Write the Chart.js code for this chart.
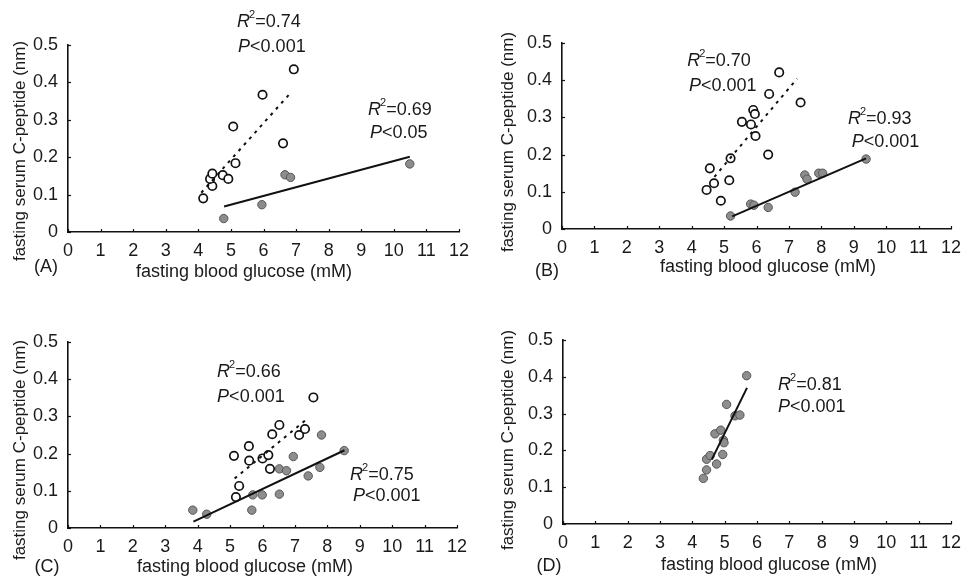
<!DOCTYPE html>
<html lang="en">
<head>
<meta charset="UTF-8">
<title>Fasting blood glucose vs fasting serum C-peptide</title>
<script src="https://cdn.jsdelivr.net/npm/chart.js@4"></script>
<style>
    body {
        margin: 0;
        background: #ffffff;
    }
    #wrap {
        position: relative;
        width: 969px;
        height: 576px;
        overflow: hidden;
    }
    canvas {
        position: absolute;
    }
</style>
</head>
<body>
<div id="wrap">
    <canvas id="chartA" width="484" height="288" style="left:0;top:0"></canvas>
    <canvas id="chartB" width="485" height="288" style="left:484px;top:0"></canvas>
    <canvas id="chartC" width="484" height="288" style="left:0;top:288px"></canvas>
    <canvas id="chartD" width="485" height="288" style="left:484px;top:288px"></canvas>
</div>
<script>
// axis ticks
const xTicks = [0, 1, 2, 3, 4, 5, 6, 7, 8, 9, 10, 11, 12];
const yTicks = [0, 0.1, 0.2, 0.3, 0.4, 0.5];
const yTickLabels = ['0', '0.1', '0.2', '0.3', '0.4', '0.5'];
const xTitle = 'fasting blood glucose (mM)';
const yTitle = 'fasting serum C-peptide (nm)';

// panel A
const aOpenX = [4.15, 4.43, 4.36, 4.43, 4.75, 4.92, 5.14, 5.07, 5.97, 6.60, 6.93];
const aOpenY = [0.090, 0.123, 0.142, 0.156, 0.152, 0.142, 0.184, 0.282, 0.367, 0.237, 0.435];
const aFillX = [4.78, 5.95, 6.66, 6.83, 10.49];
const aFillY = [0.036, 0.073, 0.153, 0.146, 0.182];
const aDashX = [4.09, 6.79];
const aDashY = [0.105, 0.368];
const aSolidX = [4.79, 10.49];
const aSolidY = [0.068, 0.201];
const aR2 = ['0.74', '0.69'];
const aP = ['<0.001', '<0.05'];

// panel B
const bOpenX = [4.46, 4.56, 4.69, 4.90, 5.16, 5.20, 5.55, 5.83, 5.90, 5.95, 5.97, 6.36, 6.39, 6.70, 7.36];
const bOpenY = [0.105, 0.163, 0.123, 0.076, 0.131, 0.190, 0.288, 0.281, 0.320, 0.309, 0.250, 0.200, 0.363, 0.421, 0.340];
const bFillX = [5.20, 5.82, 5.92, 6.36, 7.19, 7.49, 7.56, 7.92, 8.04, 9.38];
const bFillY = [0.035, 0.067, 0.064, 0.058, 0.099, 0.145, 0.134, 0.150, 0.150, 0.188];
const bDashX = [4.70, 7.25];
const bDashY = [0.140, 0.404];
const bSolidX = [5.25, 9.38];
const bSolidY = [0.034, 0.190];
const bR2 = ['0.70', '0.93'];
const bP = ['<0.001', '<0.001'];

// panel C
const cOpenX = [5.18, 5.28, 5.12, 5.58, 5.59, 6.00, 6.18, 6.23, 6.30, 6.52, 7.13, 7.31, 7.57];
const cOpenY = [0.083, 0.113, 0.194, 0.220, 0.181, 0.187, 0.196, 0.159, 0.252, 0.277, 0.250, 0.266, 0.351];
const cFillX = [3.85, 4.28, 5.67, 5.70, 5.99, 6.52, 6.52, 6.74, 6.95, 7.41, 7.77, 7.82, 8.52];
const cFillY = [0.048, 0.037, 0.048, 0.089, 0.089, 0.091, 0.159, 0.154, 0.192, 0.140, 0.163, 0.250, 0.208];
const cDashX = [5.14, 7.40];
const cDashY = [0.133, 0.295];
const cSolidX = [3.87, 8.53];
const cSolidY = [0.017, 0.209];
const cR2 = ['0.66', '0.75'];
const cP = ['<0.001', '<0.001'];

// panel D
const dFillX = [4.34, 4.44, 4.44, 4.55, 4.70, 4.75, 4.88, 4.94, 4.96, 4.98, 5.06, 5.32, 5.47, 5.68];
const dFillY = [0.124, 0.147, 0.176, 0.186, 0.245, 0.163, 0.255, 0.189, 0.228, 0.221, 0.325, 0.294, 0.296, 0.403];
const dSolidX = [4.60, 5.69];
const dSolidY = [0.175, 0.370];
const dR2 = ['0.81'];
const dP = ['<0.001'];

const FONT = '"Liberation Sans", Arial, Helvetica, sans-serif';
const INK = '#1a1a1a';

function pts(xs, ys) {
    return xs.map((x, i) => ({ x: x, y: ys[i] }));
}

function openSet(xs, ys) {
    return { data: pts(xs, ys), pointRadius: 4.2, pointBackgroundColor: '#ffffff',
             pointBorderColor: '#111', pointBorderWidth: 1.7, showLine: false };
}
function fillSet(xs, ys) {
    return { data: pts(xs, ys), pointRadius: 4.2, pointBackgroundColor: '#8d8d8d',
             pointBorderColor: '#555', pointBorderWidth: 1, showLine: false };
}
function lineSet(xs, ys, dashed) {
    return { data: pts(xs, ys), showLine: true, pointRadius: 0, borderColor: '#111',
             borderWidth: 2, borderDash: dashed ? [3, 5] : [] };
}

// axes titles, panel tag, inward ticks, R2/P notes
const decor = {
    id: 'decor',
    afterDraw(chart, args, o) {
        const { ctx, chartArea: a } = chart;
        const sx = chart.scales.x, sy = chart.scales.y;
        ctx.save();
        ctx.strokeStyle = '#111';
        ctx.lineWidth = 1.2;
        sx.ticks.forEach(t => {
            const px = Math.round(sx.getPixelForValue(t.value)) + 0.5;
            ctx.beginPath(); ctx.moveTo(px, a.bottom); ctx.lineTo(px, a.bottom - 3); ctx.stroke();
        });
        sy.ticks.forEach(t => {
            const py = Math.round(sy.getPixelForValue(t.value)) + 0.5;
            ctx.beginPath(); ctx.moveTo(a.left, py); ctx.lineTo(a.left + 3, py); ctx.stroke();
        });

        ctx.fillStyle = INK;
        ctx.textAlign = 'center';
        ctx.textBaseline = 'middle';
        ctx.font = '18px ' + FONT;
        ctx.fillText(xTitle, o.xTitle[0], o.xTitle[1]);
        ctx.fillText(o.tag, o.tagPos[0], o.tagPos[1]);
        ctx.font = '17px ' + FONT;
        ctx.save();
        ctx.translate(o.yTitle[0], o.yTitle[1]);
        ctx.rotate(-Math.PI / 2);
        ctx.fillText(yTitle, 0, 0);
        ctx.restore();

        ctx.textAlign = 'left';
        o.r2.forEach((val, i) => {
            const pos = o.notes[i];
            let x = sx.getPixelForValue(pos[0]);
            let y = sy.getPixelForValue(pos[1]);
            ctx.font = 'italic 18px ' + FONT;
            ctx.fillText('R', x, y);
            x += ctx.measureText('R').width;
            ctx.font = '11px ' + FONT;
            ctx.fillText('2', x - 1, y - 7);
            x += ctx.measureText('2').width - 1;
            ctx.font = '18px ' + FONT;
            ctx.fillText('=' + val, x, y);

            x = sx.getPixelForValue(pos[2]);
            y = sy.getPixelForValue(pos[3]);
            ctx.font = 'italic 18px ' + FONT;
            ctx.fillText('P', x, y);
            x += ctx.measureText('P').width;
            ctx.font = '18px ' + FONT;
            ctx.fillText(o.p[i], x, y);
        });
        ctx.restore();
    }
};

function makePanel(id, datasets, box, deco) {
    const H = 288;
    new Chart(document.getElementById(id), {
        type: 'scatter',
        data: { datasets: datasets },
        options: {
            responsive: false,
            animation: false,
            events: [],
            layout: { padding: { left: 0, top: box.t, right: box.w - box.r, bottom: 0 } },
            plugins: { legend: { display: false }, tooltip: { enabled: false }, decor: deco },
            scales: {
                x: {
                    type: 'linear', min: 0, max: 12,
                    afterBuildTicks: s => { s.ticks = xTicks.map(v => ({ value: v })); },
                    afterFit: s => { s.height = H - box.b; s.paddingLeft = 0; s.paddingRight = 0; },
                    grid: { display: false },
                    border: { display: true, color: '#111', width: 1.6 },
                    ticks: { color: INK, padding: 0, maxRotation: 0, autoSkip: false,
                             font: { family: FONT, size: 18 } }
                },
                y: {
                    type: 'linear', min: 0, max: 0.5,
                    afterBuildTicks: s => { s.ticks = yTicks.map(v => ({ value: v })); },
                    afterFit: s => { s.width = box.l; s.paddingTop = 0; s.paddingBottom = 0; },
                    grid: { display: false },
                    border: { display: true, color: '#111', width: 1.6 },
                    ticks: { color: INK, padding: 2, autoSkip: false,
                             callback: (v, i) => yTickLabels[i],
                             font: { family: FONT, size: 18 } }
                }
            }
        },
        plugins: [decor]
    });
}

makePanel('chartA', [
    lineSet(aDashX, aDashY, true), lineSet(aSolidX, aSolidY, false),
    openSet(aOpenX, aOpenY), fillSet(aFillX, aFillY)
], { w: 484, l: 68, r: 459, t: 45, b: 232 }, {
    xTitle: [244, 272], yTitle: [20, 151], tag: '(A)', tagPos: [46, 267],
    r2: aR2, p: aP, notes: [[5.19, 0.561, 5.22, 0.495], [9.21, 0.326, 9.27, 0.265]]
});

makePanel('chartB', [
    lineSet(bDashX, bDashY, true), lineSet(bSolidX, bSolidY, false),
    openSet(bOpenX, bOpenY), fillSet(bFillX, bFillY)
], { w: 485, l: 78, r: 467, t: 43, b: 229 }, {
    xTitle: [284, 267], yTitle: [24, 142], tag: '(B)', tagPos: [63, 271],
    r2: bR2, p: bP, notes: [[3.86, 0.452, 3.92, 0.384], [8.82, 0.296, 8.94, 0.234]]
});

makePanel('chartC', [
    lineSet(cDashX, cDashY, true), lineSet(cSolidX, cSolidY, false),
    openSet(cOpenX, cOpenY), fillSet(cFillX, cFillY)
], { w: 484, l: 68, r: 457, t: 54, b: 240 }, {
    xTitle: [245, 279], yTitle: [20, 162], tag: '(C)', tagPos: [47, 279],
    r2: cR2, p: cP, notes: [[4.60, 0.419, 4.60, 0.352], [8.70, 0.142, 8.79, 0.086]]
});

makePanel('chartD', [
    lineSet(dSolidX, dSolidY, false), fillSet(dFillX, dFillY)
], { w: 485, l: 79, r: 467, t: 52, b: 236 }, {
    xTitle: [285, 277], yTitle: [24, 152], tag: '(D)', tagPos: [65, 278],
    r2: dR2, p: dP, notes: [[6.65, 0.378, 6.65, 0.318]]
});
</script>
</body>
</html>
